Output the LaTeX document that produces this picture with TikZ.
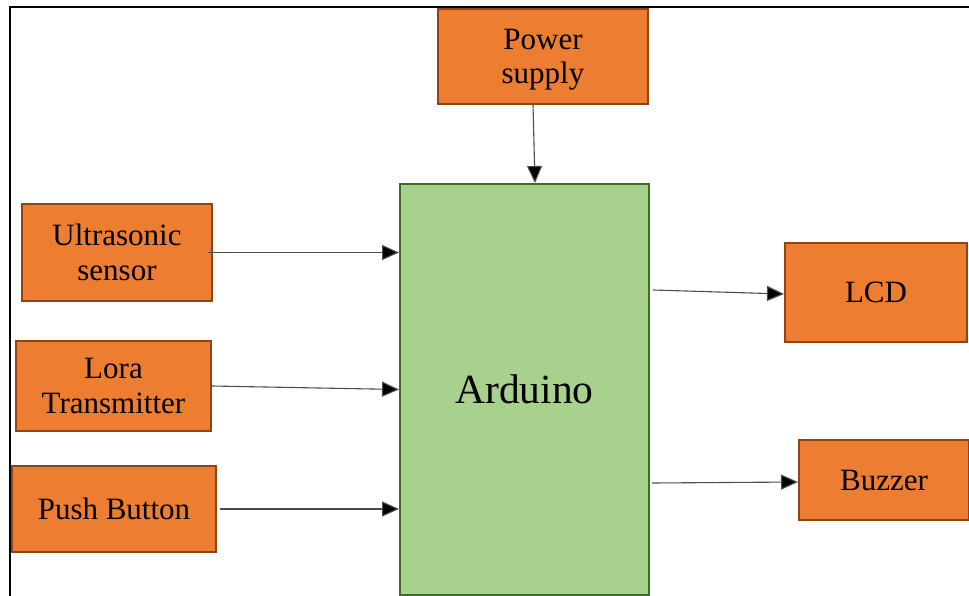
\documentclass[tikz,border=0pt]{standalone}
\usepackage{fontspec}
\setmainfont{Liberation Serif}
\usetikzlibrary{arrows.meta,calc}
\definecolor{orfill}{HTML}{ED7D31}
\definecolor{ordraw}{HTML}{8F4316}
\definecolor{grfill}{HTML}{A9D18E}
\definecolor{grdraw}{HTML}{3F6B28}
\tikzset{
  obox/.style={draw=ordraw, fill=orfill, line width=2pt, rectangle, align=center, inner sep=0pt,
    font=\fontsize{31}{34.5}\selectfont},
  gbox/.style={draw=grdraw, fill=grfill, line width=2pt, rectangle, align=center, inner sep=0pt,
    font=\fontsize{41.5}{44}\selectfont},
  arr/.style={draw=black!70, line width=1.1pt, -{Triangle[length=17pt,width=15pt,fill=black]}},
}
\begin{document}
\begin{tikzpicture}[x=1pt,y=-1pt]
\useasboundingbox (0,0) rectangle (969,596);
\fill[white] (0,0) rectangle (969,596);
\draw[line width=2pt] (10,600) -- (10,7) -- (975,7);
\node[obox, minimum width=210pt, minimum height=95pt, text depth=0pt] (power) at (543,56.5) {Power\\supply};
\node[gbox, minimum width=249pt, minimum height=411pt] (ard) at (524.5,389.5) {Arduino};
\node[obox, minimum width=190pt, minimum height=97pt] (ultra) at (117,252.5) {Ultrasonic\\sensor};
\node[obox, minimum width=195pt, minimum height=90pt] (lora) at (113.5,386) {Lora\\Transmitter};
\node[obox, minimum width=204pt, minimum height=86pt] (push) at (114,509) {Push Button};
\node[obox, minimum width=182pt, minimum height=99pt] (lcd) at (876,292.5) {LCD};
\node[obox, minimum width=170pt, minimum height=80pt] (buzzer) at (884,480) {Buzzer};
\draw[arr] ([xshift=-10pt]power.south) -- ([xshift=10.5pt]ard.north);
\draw[arr] ([xshift=-5pt]ultra.east) -- (ard.west |- ultra.east);
\draw[arr] (lora.east) -- (ard.west);
\draw[arr] ([xshift=3pt]push.east) -- (ard.west |- push.east);
\draw[arr] ([xshift=3pt,yshift=99.5pt]ard.east) -- ([yshift=-1.5pt]lcd.west);
\draw[arr] ([xshift=2pt,yshift=-93.5pt]ard.east) -- ([yshift=-2pt]buzzer.west);
\end{tikzpicture}
\end{document}
